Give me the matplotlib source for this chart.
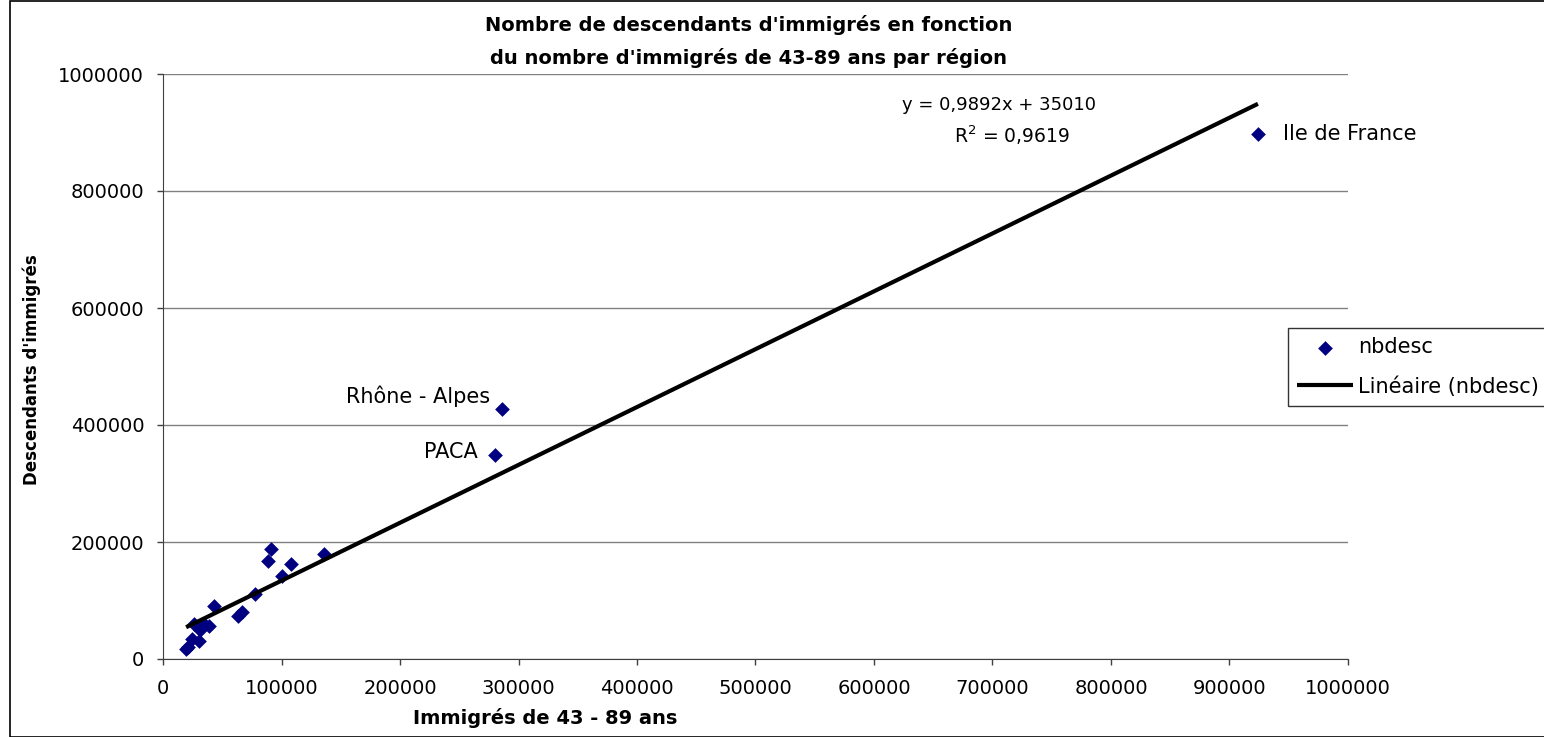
import matplotlib
matplotlib.use("Agg")
import matplotlib.pyplot as plt
from matplotlib.patches import Rectangle
import numpy as np

plt.rcParams['font.family'] = ['DejaVu Sans']

# Data (immigrés 43-89 ans, descendants d'immigrés) per region
immigres = [924000, 286000, 280000, 91000, 89000, 136000, 108000, 100000, 77600,
            43000, 63000, 66500, 26000, 34500, 38500, 31500, 24500, 30000, 19500, 21500]
descendants = [897000, 428000, 349000, 188000, 167000, 180000, 162000, 142000, 111000,
               90000, 74000, 81000, 60000, 60000, 56000, 50000, 35000, 30000, 17000, 20000]
labels = {0: "Ile de France", 1: "Rhône - Alpes", 2: "PACA"}
slope = 0.9892
intercept = 35010
r2 = 0.9619
x_ticks = [0, 100000, 200000, 300000, 400000, 500000, 600000, 700000, 800000, 900000, 1000000]
y_ticks = [0, 200000, 400000, 600000, 800000, 1000000]

W, H = 1544, 737
fig = plt.figure(figsize=(W / 100, H / 100), dpi=100)
ax = fig.add_axes([163 / W, 1 - 659 / H, (1348 - 163) / W, (659 - 74) / H])

x = np.array(immigres, dtype=float)
y = np.array(descendants, dtype=float)

ax.scatter(x, y, marker='D', s=7.5 ** 2, color='#000080', zorder=3, label='nbdesc', linewidths=0)
xl = np.array([x.min(), x.max()])
ax.plot(xl, slope * xl + intercept, color='black', lw=3, zorder=4, label='Linéaire (nbdesc)',
        solid_capstyle='butt')

ax.set_xlim(0, 1000000)
ax.set_ylim(0, 1000000)
ax.set_xticks(x_ticks)
ax.set_yticks(y_ticks)
ax.set_xticklabels([str(v) for v in x_ticks], fontsize=14)
ax.set_yticklabels([str(v) for v in y_ticks], fontsize=14)
ax.tick_params(direction='out', length=4.5, width=1, color='#404040')
ax.tick_params(axis='x', pad=10)
ax.tick_params(axis='y', pad=9)
ax.yaxis.grid(True, color='#808080', lw=1)
ax.set_axisbelow(True)
for s in ['top', 'right']:
    ax.spines[s].set_visible(False)
ax.spines['left'].set_color('#404040')
ax.spines['bottom'].set_color('#404040')

# point labels
ax.annotate(labels[0], (x[0], y[0]), xytext=(18, 0), textcoords='offset points',
            va='center', ha='left', fontsize=15)
ax.annotate(labels[1], (x[1], y[1]), xytext=(-8.4, 8.6), textcoords='offset points',
            va='center', ha='right', fontsize=15)
ax.annotate(labels[2], (x[2], y[2]), xytext=(-12, 2), textcoords='offset points',
            va='center', ha='right', fontsize=15)

# equation
fig.text(999 / W, 1 - 105 / H, "y = 0,9892x + 35010", ha='center', va='center', fontsize=13)
fig.text(1012 / W, 1 - 135 / H, "R$^2$ = 0,9619", ha='center', va='center', fontsize=13.5)

# title and axis labels
fig.text(749 / W, 1 - 25 / H, "Nombre de descendants d'immigrés en fonction", ha='center',
         va='center', fontsize=14, fontweight='bold')
fig.text(749 / W, 1 - 58 / H, "du nombre d'immigrés de 43-89 ans par région", ha='center',
         va='center', fontsize=14, fontweight='bold')
fig.text(32 / W, 1 - 370 / H, "Descendants d'immigrés", rotation=90, ha='center', va='center',
         fontsize=12, fontweight='bold')
fig.text(545 / W, 1 - 718 / H, "Immigrés de 43 - 89 ans", ha='center', va='center',
         fontsize=14, fontweight='bold')

# legend
leg = fig.legend(loc='upper left', bbox_to_anchor=(1288 / W, 1 - 328 / H), fontsize=15,
                 frameon=True, fancybox=False, edgecolor='black', borderpad=0.45,
                 handlelength=2.65, handletextpad=0.25, labelspacing=0.9, borderaxespad=0)
leg.get_frame().set_linewidth(1)

# outer border
fig.patches.append(Rectangle((10 / W, 0.5 / H), 1.0, 1 - 1 / H, transform=fig.transFigure,
                             fill=False, edgecolor='black', lw=1.2))

fig.savefig('out.png', dpi=100)
